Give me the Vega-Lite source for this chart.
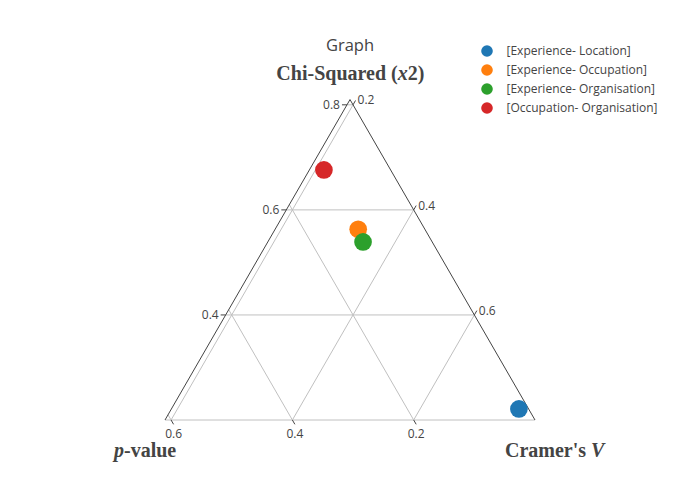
{
  "$schema": "https://vega.github.io/schema/vega-lite/v6.json",
  "width": 700,
  "height": 500,
  "padding": 0,
  "autosize": "none",
  "background": "white",
  "config": {"view": {"stroke": null}},
  "datasets": {
    "axes": [
      {"axis": "a", "value": 0.2, "kind": "grid"},
      {"axis": "a", "value": 0.4, "kind": "grid"},
      {"axis": "a", "value": 0.6, "kind": "grid"},
      {"axis": "a", "value": 0.8, "kind": "grid"},
      {"axis": "b", "value": 0.2, "kind": "grid"},
      {"axis": "b", "value": 0.4, "kind": "grid"},
      {"axis": "b", "value": 0.6, "kind": "grid"},
      {"axis": "c", "value": 0.2, "kind": "grid"},
      {"axis": "c", "value": 0.4, "kind": "grid"},
      {"axis": "c", "value": 0.6, "kind": "grid"},
      {"axis": "c", "value": 0.19, "kind": "edge"},
      {"axis": "b", "value": 0.0, "kind": "edge"}
    ],
    "points": [
      {"pair": "[Experience- Location]", "chi": 0.221, "p": 0.016, "v": 0.763},
      {"pair": "[Experience- Occupation]", "chi": 0.563, "p": 0.110, "v": 0.327},
      {"pair": "[Experience- Organisation]", "chi": 0.539, "p": 0.114, "v": 0.347},
      {"pair": "[Occupation- Organisation]", "chi": 0.676, "p": 0.110, "v": 0.214}
    ]
  },
  "layer": [
    {
      "data": {"name": "axes"},
      "transform": [
        {"calculate": "datum.axis=='a' ? (datum.value-0.2)/0.61 : datum.axis=='b' ? datum.value/0.61 : (datum.value-0.19)/0.61", "as": "t"},
        {"calculate": "datum.axis=='a' ? datum.t/2 : datum.axis=='b' ? 1-datum.t : datum.t", "as": "x1"},
        {"calculate": "datum.axis=='a' ? datum.t*0.8660254 : 0", "as": "y1"},
        {"calculate": "datum.axis=='a' ? 1-datum.t/2 : datum.axis=='b' ? (1-datum.t)/2 : (1+datum.t)/2", "as": "x2"},
        {"calculate": "datum.axis=='a' ? datum.t*0.8660254 : (1-datum.t)*0.8660254", "as": "y2"},
        {"calculate": "datum.axis=='c' ? datum.x2 : datum.x1", "as": "tx0"},
        {"calculate": "datum.axis=='c' ? datum.y2 : datum.y1", "as": "ty0"},
        {"calculate": "datum.axis=='a' ? datum.tx0-0.0135 : datum.tx0+0.00675", "as": "tx"},
        {"calculate": "datum.axis=='a' ? datum.ty0 : datum.axis=='b' ? -0.01169 : datum.ty0+0.01169", "as": "ty"}
      ],
      "encoding": {
        "x": {"field": "x1", "type": "quantitative", "scale": {"domain": [-0.445946, 1.445946], "nice": false, "zero": false}, "axis": null},
        "y": {"field": "y1", "type": "quantitative", "scale": {"domain": [-0.216216, 1.135135], "nice": false, "zero": false}, "axis": null}
      },
      "layer": [
        {
          "transform": [{"filter": "datum.kind=='grid'"}],
          "mark": {"type": "rule", "stroke": "#c0c0c0", "strokeWidth": 1},
          "encoding": {"x2": {"field": "x2"}, "y2": {"field": "y2"}}
        },
        {
          "transform": [{"filter": "datum.kind=='edge'"}],
          "mark": {"type": "rule", "stroke": "#444444", "strokeWidth": 1},
          "encoding": {"x2": {"field": "x2"}, "y2": {"field": "y2"}}
        },
        {
          "transform": [{"filter": "datum.kind=='grid' && datum.value > 0.3 || (datum.kind=='grid' && datum.axis!='a')"}],
          "mark": {"type": "rule", "stroke": "#444444", "strokeWidth": 1},
          "encoding": {
            "x": {"field": "tx0", "type": "quantitative"},
            "y": {"field": "ty0", "type": "quantitative"},
            "x2": {"field": "tx"},
            "y2": {"field": "ty"}
          }
        },
        {
          "transform": [{"filter": "datum.kind=='grid' && datum.axis=='a' && datum.value > 0.3"}],
          "mark": {"type": "text", "align": "right", "baseline": "middle", "dx": -2, "font": "Open Sans", "fontSize": 12, "fill": "#444444"},
          "encoding": {
            "x": {"field": "tx", "type": "quantitative"},
            "y": {"field": "ty", "type": "quantitative"},
            "text": {"field": "value", "type": "quantitative", "format": ".1f"}
          }
        },
        {
          "transform": [{"filter": "datum.kind=='grid' && datum.axis=='b'"}],
          "mark": {"type": "text", "align": "center", "baseline": "top", "dy": 5, "font": "Open Sans", "fontSize": 12, "fill": "#444444"},
          "encoding": {
            "x": {"field": "tx", "type": "quantitative"},
            "y": {"field": "ty", "type": "quantitative"},
            "text": {"field": "value", "type": "quantitative", "format": ".1f"}
          }
        },
        {
          "transform": [{"filter": "datum.kind=='grid' && datum.axis=='c'"}],
          "mark": {"type": "text", "align": "left", "baseline": "middle", "dx": 2, "font": "Open Sans", "fontSize": 12, "fill": "#444444"},
          "encoding": {
            "x": {"field": "tx", "type": "quantitative"},
            "y": {"field": "ty", "type": "quantitative"},
            "text": {"field": "value", "type": "quantitative", "format": ".1f"}
          }
        }
      ]
    },
    {
      "data": {"name": "points"},
      "transform": [
        {"calculate": "(datum.chi-0.2)/0.61", "as": "ap"},
        {"calculate": "(datum.v-0.19)/0.61", "as": "cp"},
        {"calculate": "datum.cp + datum.ap/2", "as": "X"},
        {"calculate": "datum.ap*0.8660254", "as": "Y"}
      ],
      "mark": {"type": "circle", "size": 314, "opacity": 1},
      "encoding": {
        "x": {"field": "X", "type": "quantitative", "scale": {"domain": [-0.445946, 1.445946], "nice": false, "zero": false}, "axis": null},
        "y": {"field": "Y", "type": "quantitative", "scale": {"domain": [-0.216216, 1.135135], "nice": false, "zero": false}, "axis": null},
        "color": {
          "field": "pair", "type": "nominal",
          "scale": {"domain": ["[Experience- Location]", "[Experience- Occupation]", "[Experience- Organisation]", "[Occupation- Organisation]"], "range": ["#1f77b4", "#ff7f0e", "#2ca02c", "#d62728"]},
          "legend": {"title": null, "orient": "none", "legendX": 481, "legendY": 45, "symbolType": "circle", "symbolSize": 135, "symbolStrokeWidth": 0, "symbolOpacity": 1, "labelFont": "Open Sans", "labelFontSize": 12, "labelColor": "#444444", "labelOffset": 13.5, "rowPadding": 7, "padding": 0}
        }
      }
    },
    {
      "data": {"values": [{"label": "Graph"}]},
      "mark": {"type": "text", "align": "center", "baseline": "alphabetic", "dy": -49, "font": "Open Sans", "fontSize": 16.5, "fill": "#444444"},
      "encoding": {
        "x": {"datum": 0.5, "type": "quantitative"},
        "y": {"datum": 0.8660254, "type": "quantitative"},
        "text": {"field": "label"}
      }
    },
    {
      "data": {"values": [{"label": "Chi-Squared ("}]},
      "mark": {"type": "text", "align": "right", "baseline": "alphabetic", "dx": 47.7, "dy": -20, "font": "Liberation Serif", "fontSize": 20, "fontWeight": "bold", "fill": "#444444"},
      "encoding": {"x": {"datum": 0.5, "type": "quantitative"}, "y": {"datum": 0.8660254, "type": "quantitative"}, "text": {"field": "label"}}
    },
    {
      "data": {"values": [{"label": "x"}]},
      "mark": {"type": "text", "align": "left", "baseline": "alphabetic", "dx": 47.7, "dy": -20, "font": "Liberation Serif", "fontSize": 20, "fontWeight": "bold", "fontStyle": "italic", "fill": "#444444"},
      "encoding": {"x": {"datum": 0.5, "type": "quantitative"}, "y": {"datum": 0.8660254, "type": "quantitative"}, "text": {"field": "label"}}
    },
    {
      "data": {"values": [{"label": "2)"}]},
      "mark": {"type": "text", "align": "left", "baseline": "alphabetic", "dx": 57.7, "dy": -20, "font": "Liberation Serif", "fontSize": 20, "fontWeight": "bold", "fill": "#444444"},
      "encoding": {"x": {"datum": 0.5, "type": "quantitative"}, "y": {"datum": 0.8660254, "type": "quantitative"}, "text": {"field": "label"}}
    },
    {
      "data": {"values": [{"label": "p"}]},
      "mark": {"type": "text", "align": "left", "baseline": "alphabetic", "dx": -51, "dy": 37, "font": "Liberation Serif", "fontSize": 20, "fontWeight": "bold", "fontStyle": "italic", "fill": "#444444"},
      "encoding": {"x": {"datum": 0, "type": "quantitative"}, "y": {"datum": 0, "type": "quantitative"}, "text": {"field": "label"}}
    },
    {
      "data": {"values": [{"label": "-value"}]},
      "mark": {"type": "text", "align": "left", "baseline": "alphabetic", "dx": -41, "dy": 37, "font": "Liberation Serif", "fontSize": 20, "fontWeight": "bold", "fill": "#444444"},
      "encoding": {"x": {"datum": 0, "type": "quantitative"}, "y": {"datum": 0, "type": "quantitative"}, "text": {"field": "label"}}
    },
    {
      "data": {"values": [{"label": "Cramer's"}]},
      "mark": {"type": "text", "align": "left", "baseline": "alphabetic", "dx": -30, "dy": 37, "font": "Liberation Serif", "fontSize": 20, "fontWeight": "bold", "fill": "#444444"},
      "encoding": {"x": {"datum": 1, "type": "quantitative"}, "y": {"datum": 0, "type": "quantitative"}, "text": {"field": "label"}}
    },
    {
      "data": {"values": [{"label": "V"}]},
      "mark": {"type": "text", "align": "left", "baseline": "alphabetic", "dx": 56, "dy": 37, "font": "Liberation Serif", "fontSize": 20, "fontWeight": "bold", "fontStyle": "italic", "fill": "#444444"},
      "encoding": {"x": {"datum": 1, "type": "quantitative"}, "y": {"datum": 0, "type": "quantitative"}, "text": {"field": "label"}}
    }
  ]
}
